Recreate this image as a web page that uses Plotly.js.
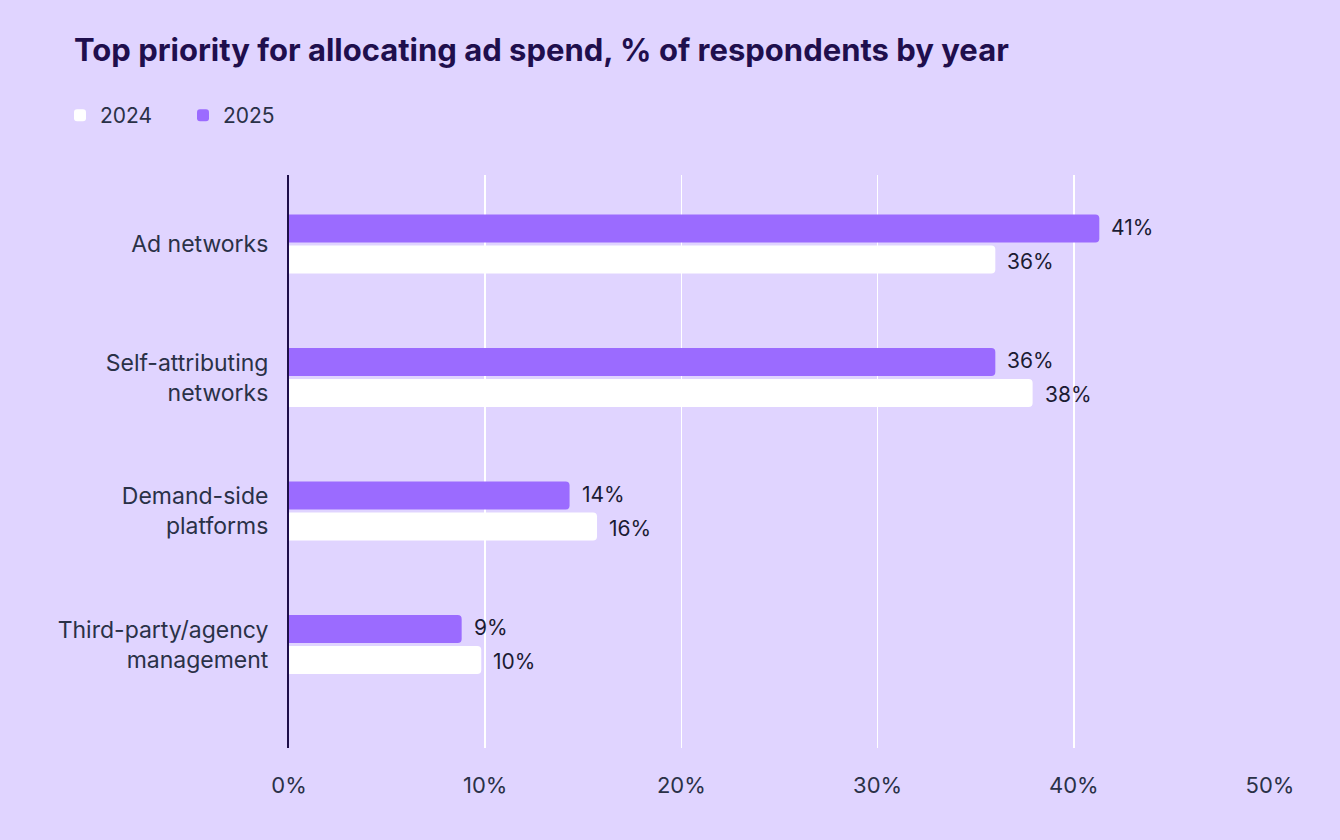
<!DOCTYPE html>
<html>
<head>
<meta charset="utf-8">
<script src="https://cdn.plot.ly/plotly-3.0.1.min.js"></script>
<style>html,body{margin:0;padding:0;background:#E0D4FF;}</style>
</head>
<body>
<div id="chart" style="width:1340px;height:840px;"></div>
<script>
// Categories listed bottom-to-top
const categories = ["Third-party/agency<br>management", "Demand-side<br>platforms", "Self-attributing<br>networks", "Ad networks"];
const values2024 = [9.8, 15.7, 37.9, 36.0];
const values2025 = [8.8, 14.3, 36.0, 41.3];
const labels2024 = ["10%", "16%", "38%", "36%"];
const labels2025 = ["9%", "14%", "36%", "41%"];
const xTicks = [0, 10, 20, 30, 40, 50];
const xTickLabels = ["0%", "10%", "20%", "30%", "40%", "50%"];

const FONT = "Inter, 'Open Sans', sans-serif";
const purple = "#9B6BFF";
const textCol = "#1B1B33";

const traces = [
  {type: "bar", orientation: "h", name: "2024", y: categories, x: values2024,
   marker: {color: "#FFFFFF"}, hoverinfo: "skip"},
  {type: "bar", orientation: "h", name: "2025", y: categories, x: values2025,
   marker: {color: purple}, hoverinfo: "skip"}
];

const annotations = [];
categories.forEach((c, i) => {
  annotations.push({x: values2025[i], y: c, text: labels2025[i], xref: "x", yref: "y",
    xanchor: "left", yanchor: "middle", xshift: 10, yshift: 17, showarrow: false,
    font: {family: FONT, size: 21, color: textCol}});
  annotations.push({x: values2024[i], y: c, text: labels2024[i], xref: "x", yref: "y",
    xanchor: "left", yanchor: "middle", xshift: 10, yshift: -17, showarrow: false,
    font: {family: FONT, size: 21, color: textCol}});
});

const layout = {
  width: 1340, height: 840,
  paper_bgcolor: "#E0D4FF", plot_bgcolor: "#E0D4FF",
  margin: {l: 289, r: 70, t: 175, b: 92},
  font: {family: FONT, color: "#2A3147"},
  title: {text: "<b>Top priority for allocating ad spend, % of respondents by year</b>",
    x: 74/1340, xanchor: "left", xref: "container", y: 1 - 50/840, yanchor: "middle", yref: "container",
    font: {family: FONT, size: 31, color: "#1F0F4D"}},
  showlegend: true,
  legend: {orientation: "h", xref: "container", yref: "container", x: 60/1340, y: 1 - 95/840,
    xanchor: "left", yanchor: "top", font: {family: FONT, size: 21, color: "#2A3147"},
    bgcolor: "rgba(0,0,0,0)", traceorder: "normal", entrywidth: 78, entrywidthmode: "pixels"},
  barmode: "group",
  bargap: 0.536, bargroupgap: 0.097,
  barcornerradius: 4,
  xaxis: {range: [0, 50], tickvals: xTicks, ticktext: xTickLabels, showgrid: true,
    gridcolor: "#FFFFFF", gridwidth: 1.5, zeroline: false, showline: false,
    ticks: "", ticklabelstandoff: 22, tickfont: {family: FONT, size: 22, color: "#2A3147"}, fixedrange: true},
  yaxis: {type: "category", categoryorder: "array", categoryarray: categories,
    range: [-0.775, 3.517], showgrid: false, zeroline: false, showline: true,
    linecolor: "#1E0E4A", linewidth: 2, ticks: "", ticklabelstandoff: 14,
    tickfont: {family: FONT, size: 23, color: "#2A3147"}, fixedrange: true},
  annotations: annotations
};

Plotly.newPlot("chart", traces, layout, {displayModeBar: false, staticPlot: true});
</script>
</body>
</html>
